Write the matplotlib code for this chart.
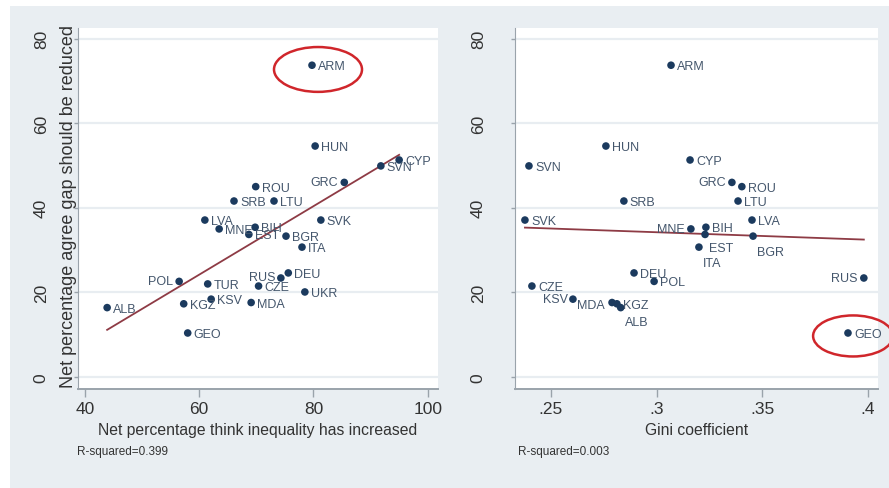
import matplotlib
matplotlib.use("Agg")
import matplotlib.pyplot as plt
from matplotlib.patches import Ellipse, Rectangle
import numpy as np

plt.rcParams["font.family"] = ["Liberation Sans", "DejaVu Sans"]

# one entry per country; gini is NaN where the country has no Gini figure
countries = ["ARM", "HUN", "CYP", "SVN", "GRC", "ROU", "SRB", "LTU", "LVA", "SVK",
             "MNE", "BIH", "EST", "BGR", "ITA", "DEU", "RUS", "POL", "TUR", "CZE",
             "UKR", "KSV", "KGZ", "MDA", "ALB", "GEO"]
reduce_gap = [73.7, 54.6, 51.3, 49.9, 46.0, 45.0, 41.6, 41.6, 37.1, 37.1,
              35.0, 35.4, 33.7, 33.3, 30.7, 24.6, 23.4, 22.6, 22.0, 21.5,
              20.1, 18.4, 17.3, 17.6, 16.4, 10.4]
inequality_up = [79.75, 80.3, 95.0, 91.8, 85.4, 69.9, 66.1, 73.1, 61.0, 81.3,
                 63.5, 69.8, 68.7, 75.2, 78.0, 75.6, 74.3, 56.5, 61.5, 70.4,
                 78.5, 62.1, 57.3, 69.1, 43.9, 58.0]
gini = [0.3068, 0.276, 0.3158, 0.2396, 0.3356, 0.3403, 0.2845, 0.3385, 0.3451, 0.2377,
        0.3162, 0.3233, 0.3229, 0.3456, 0.3200, 0.2893, 0.398, 0.2988, np.nan, 0.241,
        np.nan, 0.2604, 0.2812, 0.2789, 0.2830, 0.3905]

r2_left = "R-squared=0.399"
r2_right = "R-squared=0.003"

DOT = "#1b3a5e"
LABEL = "#44566c"
FIT = "#8e3b45"
AXIS = "#9aa3ab"
GRID = "#e8edf1"
PANEL = "#e9eef2"

# label placement in pixels (dx, dy, ha); default is to the right of the dot
LEFT_POS = {"GRC": (-6, 0, "right"), "RUS": (-5, 1, "right"), "POL": (-6, 0, "right")}
RIGHT_POS = {"GRC": (-6, 0, "right"), "MNE": (-6, 0, "right"), "KSV": (-5, 0, "right"),
             "MDA": (-7, -2, "right"), "RUS": (-6, 0, "right"),
             "EST": (4, -14, "left"), "ITA": (13, -16, "center"),
             "BGR": (4, -16, "left"), "ALB": (4, -14, "left")}


def draw_panel(ax, xs, ys, names, pos, xlim, xticks, xticklabels, xlabel):
    xs = np.asarray(xs, dtype=float)
    ys = np.asarray(ys, dtype=float)
    ok = ~np.isnan(xs)
    xs, ys = xs[ok], ys[ok]
    names = [n for n, k in zip(names, ok) if k]

    ax.set_facecolor("white")
    for g in [0, 20, 40, 60, 80]:
        ax.axhline(g, color=GRID, linewidth=1.6, zorder=0)

    slope, icpt = np.polyfit(xs, ys, 1)
    fx = np.array([xs.min(), xs.max()])
    ax.plot(fx, icpt + slope * fx, color=FIT, linewidth=1.3, zorder=2)

    ax.scatter(xs, ys, s=30, color=DOT, edgecolors="none", zorder=3)
    for x, y, n in zip(xs, ys, names):
        dx, dy, ha = pos.get(n, (6, -1, "left"))
        ax.annotate(n, (x, y), textcoords="offset pixels", xytext=(dx, dy),
                    ha=ha, va="center", fontsize=9, color=LABEL, zorder=4)

    ax.set_xlim(*xlim)
    ax.set_ylim(-2.84, 82.5)
    ax.set_xticks(xticks)
    ax.set_xticklabels(xticklabels)
    ax.set_yticks([0, 20, 40, 60, 80])
    ax.tick_params(axis="x", length=6, width=1, color=AXIS, labelsize=12.5,
                   labelcolor="#333333", pad=3)
    ax.tick_params(axis="y", length=3, width=1, color=AXIS, labelsize=12.5,
                   labelcolor="#333333", labelrotation=90, pad=18)
    for lab in ax.get_yticklabels():
        lab.set_va("center")
    for side in ["top", "right"]:
        ax.spines[side].set_visible(False)
    ax.spines["left"].set_color(AXIS)
    ax.spines["bottom"].set_color(AXIS)
    ax.spines["bottom"].set_linewidth(1.4)

    ax.set_xlabel(xlabel, fontsize=11.3, color="#333333")
    ax.xaxis.label.set_va("center")
    ax.xaxis.set_label_coords(0.5, -0.111)


fig = plt.figure(figsize=(8.89, 4.89), dpi=100)
fig.patch.set_facecolor(PANEL)
fig.patches.append(Rectangle((0, 1 - 7 / 489), 1, 7 / 489, transform=fig.transFigure,
                             facecolor="white", edgecolor="none"))
fig.patches.append(Rectangle((0, 0), 10 / 889, 1, transform=fig.transFigure,
                             facecolor="white", edgecolor="none"))

ax1 = fig.add_axes([78 / 889, 99 / 489, 360 / 889, 361 / 489])
ax2 = fig.add_axes([515 / 889, 99 / 489, 363 / 889, 361 / 489])

draw_panel(ax1, inequality_up, reduce_gap, countries, LEFT_POS, (38.8, 101.8),
           [40, 60, 80, 100], ["40", "60", "80", "100"],
           "Net percentage think inequality has increased")
draw_panel(ax2, gini, reduce_gap, countries, RIGHT_POS, (0.233, 0.4047),
           [0.25, 0.3, 0.35, 0.4], [".25", ".3", ".35", ".4"],
           "Gini coefficient")

ax1.set_ylabel("Net percentage agree gap should be reduced", fontsize=13, color="#333333")
ax1.yaxis.set_label_coords(-0.004, 0.507)

# highlight the outliers
ax1.add_patch(Ellipse((80.8, 72.7), 15.4, 10.6, fill=False, edgecolor="#d0262b",
                      linewidth=1.8, clip_on=False, zorder=5))
ax2.add_patch(Ellipse((0.3929, 9.7), 0.0378, 9.7, fill=False, edgecolor="#d0262b",
                      linewidth=1.8, clip_on=False, zorder=5))

fig.text(77 / 889, 1 - 452 / 489, r2_left, fontsize=8.5, color="#333333", va="center")
fig.text(518 / 889, 1 - 452 / 489, r2_right, fontsize=8.5, color="#333333", va="center")

fig.savefig("out.png", dpi=100, facecolor=fig.get_facecolor())
